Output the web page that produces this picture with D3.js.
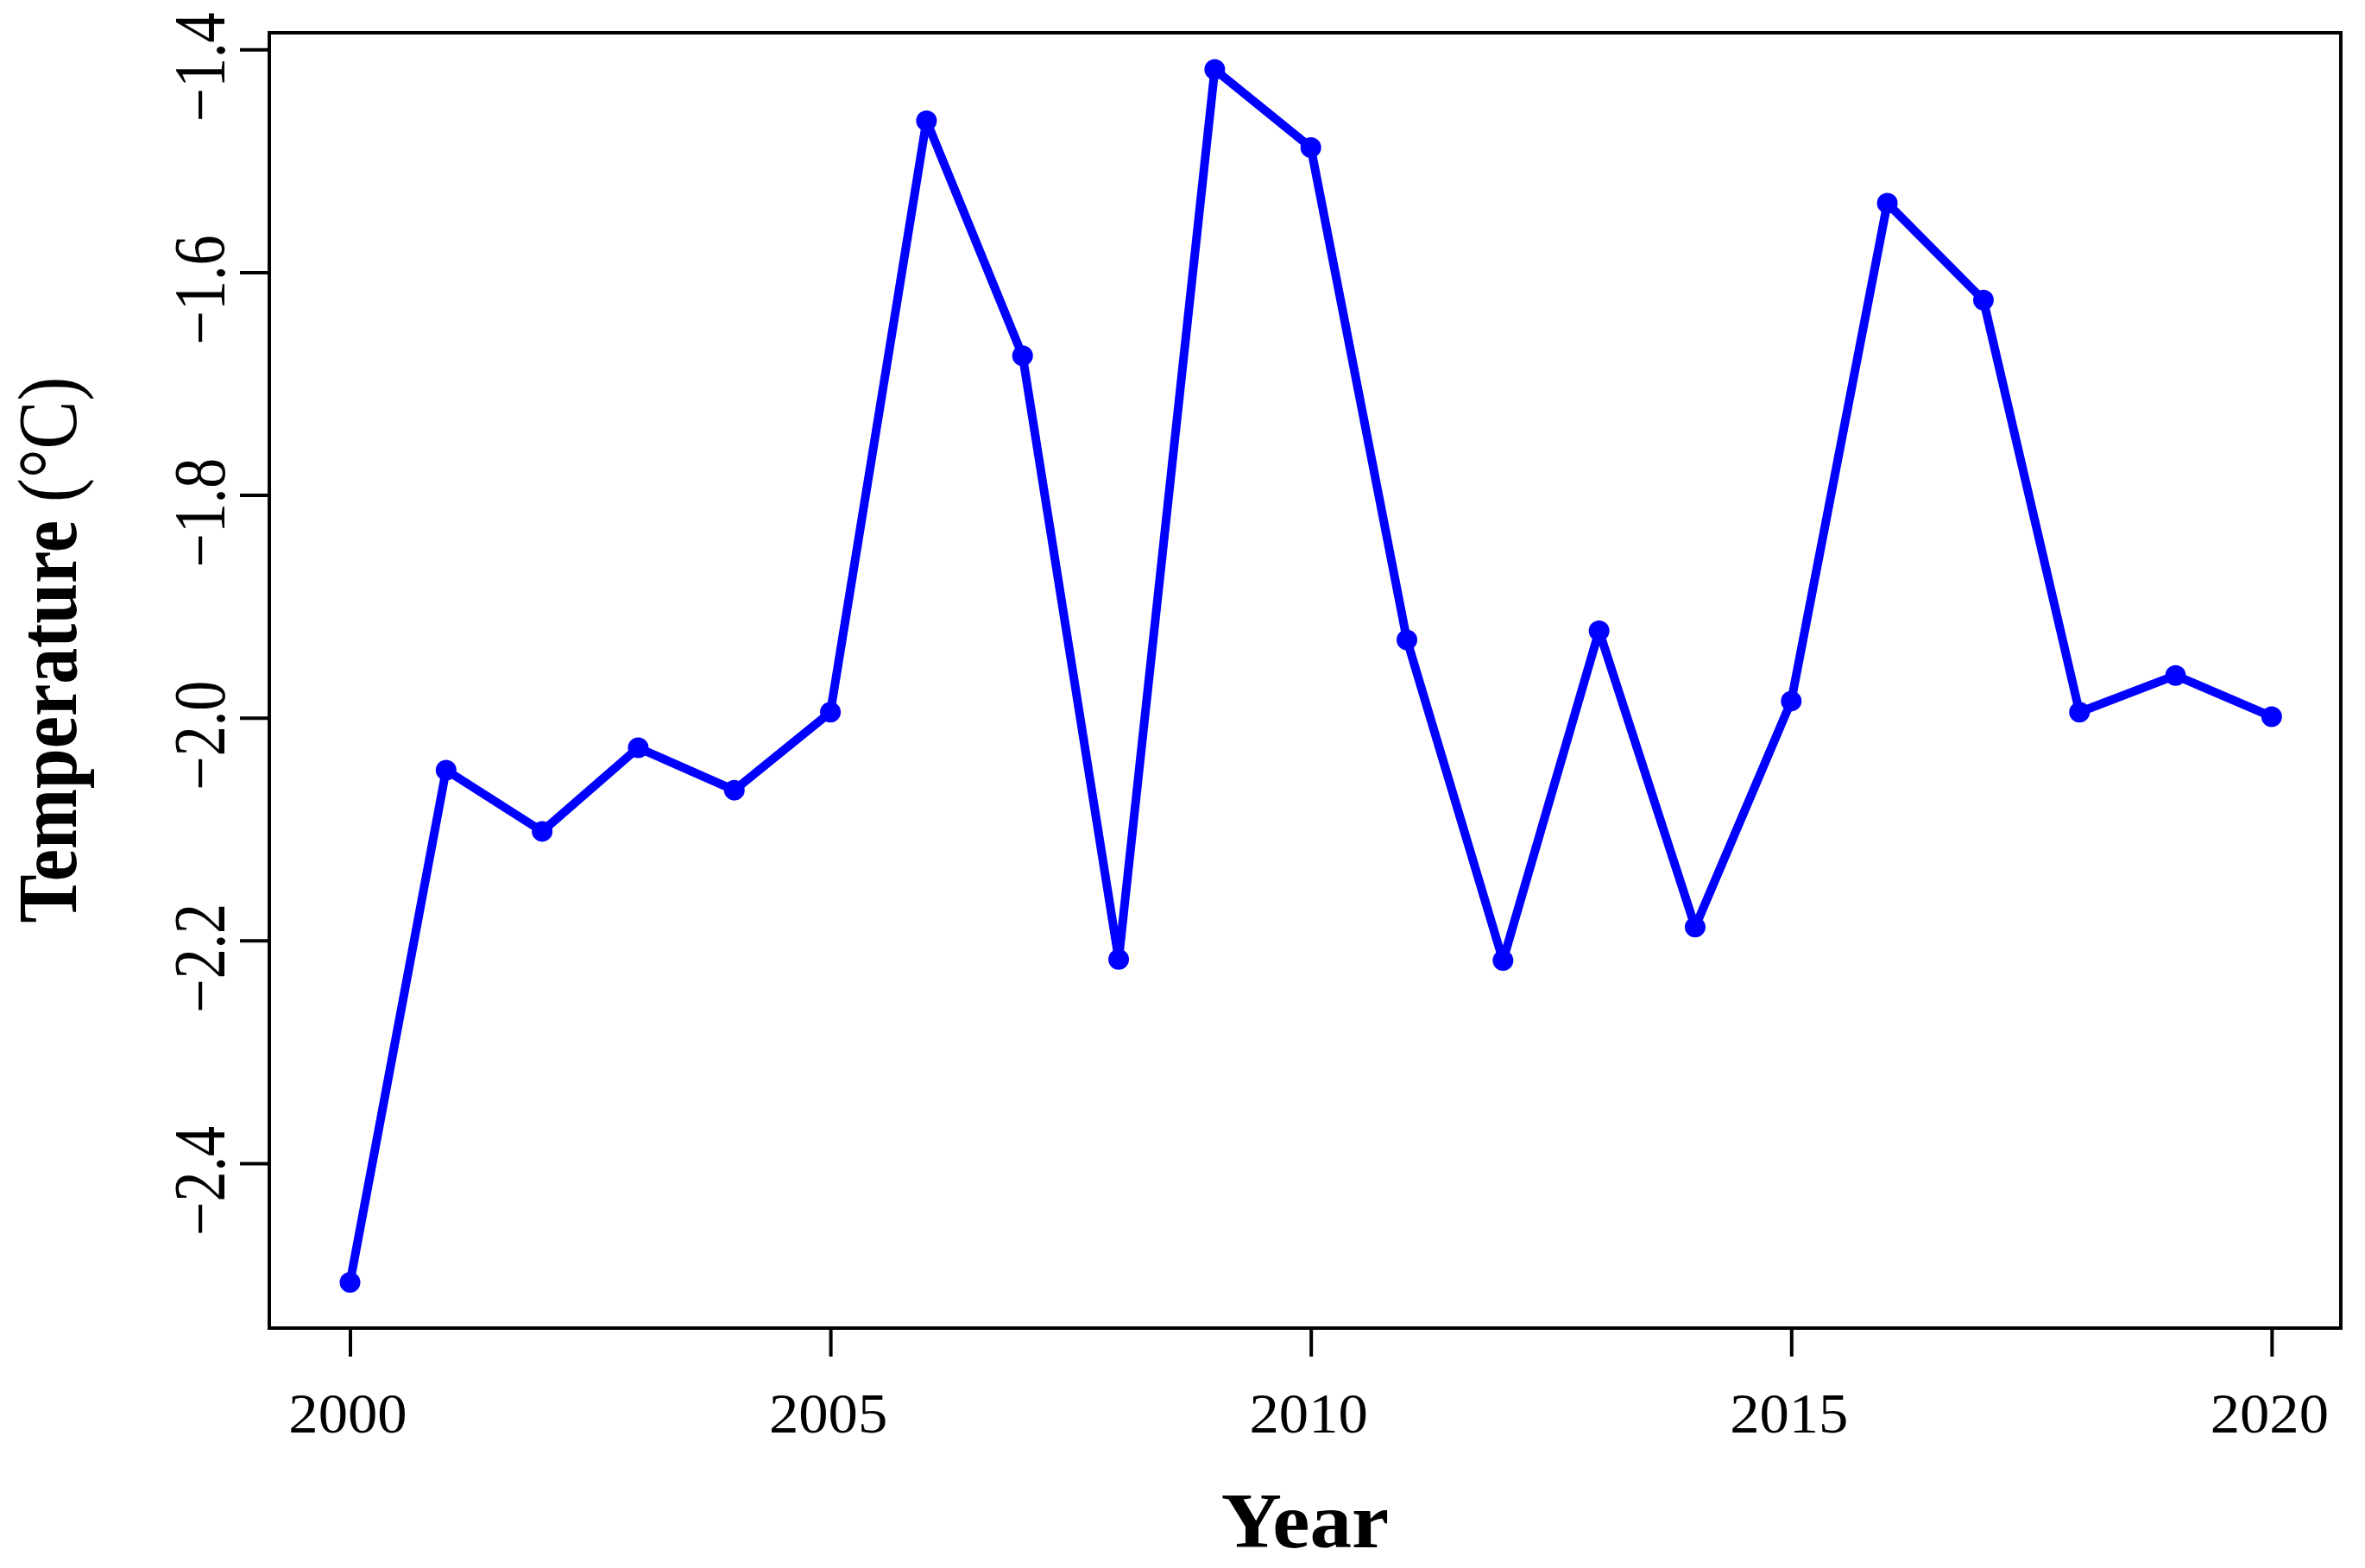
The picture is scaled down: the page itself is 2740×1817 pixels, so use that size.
<!DOCTYPE html>
<html>
<head>
    <title>Temperature by Year</title>
    <script src="https://d3js.org/d3.v7.min.js"></script>
    <style>
        body { margin: 0; background: white; }
        text { font-family: "Liberation Serif", "Times New Roman", serif; }
    </style>
</head>
<body>
    <div id="chart"></div>
    <script>
        // values
        var years = [2000, 2001, 2002, 2003, 2004, 2005, 2006, 2007, 2008, 2009, 2010,
                     2011, 2012, 2013, 2014, 2015, 2016, 2017, 2018, 2019, 2020];
        var temps = [-2.507, -2.047, -2.102, -2.027, -2.065, -1.995, -1.464, -1.675, -2.217, -1.418, -1.488,
                     -1.930, -2.218, -1.922, -2.188, -1.985, -1.538, -1.625, -1.995, -1.962, -1.999];
        var xTicks = [2000, 2005, 2010, 2015, 2020];
        var yTicks = [-1.4, -1.6, -1.8, -2.0, -2.2, -2.4];

        var width = 2740, height = 1817;
        // plot box (window.top is taken, so no "top" here)
        var plotL = 312, plotR = 2712, plotT = 38, plotB = 1539;

        var data = years.map(function(d, i) { return {year: d, temp: temps[i]}; });

        var x = d3.scaleLinear()
            .domain([1999.16, 2020.72])
            .range([plotL, plotR]);
        var y = d3.scaleLinear()
            .domain([-2.548, -1.385])
            .range([plotB, plotT]);

        var svg = d3.select("#chart")
            .append("svg")
            .attr("width", width)
            .attr("height", height);

        // box round the plot
        svg.append("rect")
            .attr("x", plotL)
            .attr("y", plotT)
            .attr("width", plotR - plotL)
            .attr("height", plotB - plotT)
            .attr("fill", "none")
            .attr("stroke", "black")
            .attr("stroke-width", 4);

        // x axis
        var xAxis = svg.append("g")
            .attr("transform", "translate(0," + plotB + ")")
            .call(d3.axisBottom(x).tickValues(xTicks).tickSize(33).tickFormat(d3.format("d")));
        xAxis.select(".domain").remove();
        xAxis.selectAll("line").attr("stroke-width", 4);
        xAxis.selectAll("text")
            .attr("y", null)
            .attr("dy", null)
            .attr("transform", "translate(-3,121) scale(1.04,1)")
            .attr("font-size", "66px")
            .attr("fill", "black");

        // y axis, labels turned on their side (the source glyphs look stretched across)
        var yAxis = svg.append("g")
            .attr("transform", "translate(" + plotL + ",0)")
            .call(d3.axisLeft(y).tickValues(yTicks).tickSize(34).tickFormat(d3.format(".1f")));
        yAxis.select(".domain").remove();
        yAxis.selectAll("line").attr("stroke-width", 4);
        yAxis.selectAll("text")
            .attr("x", null)
            .attr("dy", null)
            .attr("text-anchor", "middle")
            .attr("transform", "translate(-52,20) rotate(-90) scale(1,1.2)")
            .attr("font-size", "70px")
            .attr("fill", "black");

        // line and points
        var line = d3.line()
            .x(function(d) { return x(d.year); })
            .y(function(d) { return y(d.temp); });

        svg.append("path")
            .datum(data)
            .attr("d", line)
            .attr("fill", "none")
            .attr("stroke", "#0000ff")
            .attr("stroke-width", 10)
            .attr("stroke-linejoin", "round");

        svg.selectAll("circle")
            .data(data)
            .enter()
            .append("circle")
            .attr("cx", function(d) { return x(d.year); })
            .attr("cy", function(d) { return y(d.temp); })
            .attr("r", 12)
            .attr("fill", "#0000ff");

        // axis titles
        svg.append("text")
            .attr("transform", "translate(" + (plotL + plotR) / 2 + ",1793) scale(1.08,1)")
            .attr("text-anchor", "middle")
            .attr("font-size", "90px")
            .attr("font-weight", "bold")
            .text("Year");

        var yTitle = svg.append("text")
            .attr("transform", "translate(88,753) rotate(-90) scale(1,1.15)")
            .attr("text-anchor", "middle")
            .attr("font-size", "84px");
        yTitle.append("tspan").attr("font-weight", "bold").text("Temperature");
        yTitle.append("tspan").text(" (°C)");
    </script>
</body>
</html>
